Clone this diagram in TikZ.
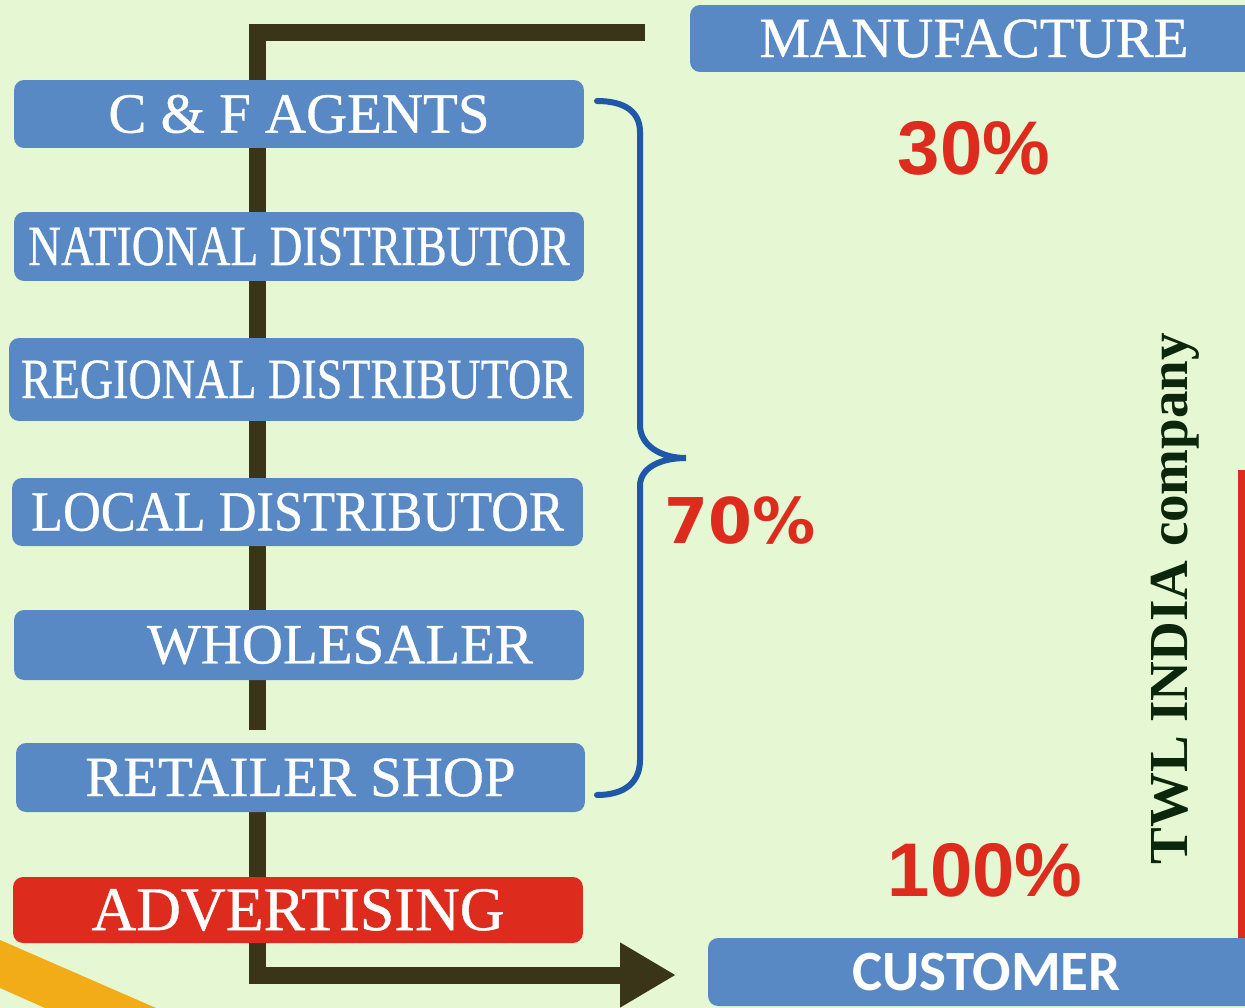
\documentclass[tikz,border=0pt]{standalone}
\usepackage{fontspec}
\usepackage{graphicx}
\setmainfont{Liberation Serif}
\newfontfamily\boxfont[FakeBold=0.6]{Liberation Serif}
\newfontfamily\pctfont{Liberation Sans}
\newfontfamily\widefont{DejaVu Sans}
\newfontfamily\custfont{Carlito}
\usetikzlibrary{arrows.meta}

\definecolor{bgcol}{HTML}{E5F7D3}
\definecolor{boxblue}{HTML}{5889C4}
\definecolor{boxred}{HTML}{DD2C1D}
\definecolor{flowcol}{HTML}{3A3419}
\definecolor{bracecol}{HTML}{1F58A8}
\definecolor{bandcol}{HTML}{F2AC17}
\definecolor{twlcol}{HTML}{0B260B}

\newcommand{\narrow}[2]{\scalebox{#1}[1]{#2}}

\begin{document}
\begin{tikzpicture}[x=0.02cm,y=-0.02cm,
  chain/.style={rectangle,rounded corners=0.2cm,fill=boxblue,text=white,inner sep=0pt,font=\boxfont\fontsize{32.4}{36}\selectfont,minimum width=11.4cm,minimum height=1.36cm},
  pct/.style={text=boxred,inner sep=0pt,font=\pctfont\bfseries\fontsize{43.3}{48}\selectfont},
  flow/.style={draw=flowcol,line width=0.34cm},
  bracket/.style={draw=bracecol,line width=0.12cm,line cap=round}]

\useasboundingbox (0,0) rectangle (1245,1008);
\fill[bgcol] (0,0) rectangle (1245,1008);
\fill[bandcol] (0,940) -- (156,1008) -- (45,1008) -- (0,988) -- cycle;

% main flow line, behind the boxes
\coordinate (start) at (645,32);
\coordinate (corner) at (257,32);
\coordinate (gap) at (257,730);
\coordinate (resume) at (257,743);
\coordinate (bend) at (257,975);
\coordinate (tip) at (676,975);
\draw[flow] (start) -- (corner) -- (gap);
\draw[flow,-{Triangle[length=1.12cm,width=1.22cm]}] (resume) -- (bend) -- (tip);

\draw(974,38.5) node[chain,minimum width=11.36cm,minimum height=1.34cm](mfr){MANUFACTURE};

\draw(299,114) node[chain](cfa){C \& F AGENTS};

\draw(299,246.5) node[chain,minimum height=1.38cm](nat){\narrow{.80}{NATIONAL DISTRIBUTOR}};

\draw(296.5,379.5) node[chain,minimum width=11.5cm,minimum height=1.66cm](reg){\narrow{.81}{REGIONAL DISTRIBUTOR}};

\draw(297.5,512) node[chain,minimum width=11.42cm](loc){\narrow{.92}{LOCAL DISTRIBUTOR}};

\draw(299,645) node[chain,minimum height=1.4cm](whl){\hspace*{1.64cm}WHOLESALER};

\draw(300.5,777.5) node[chain,minimum width=11.38cm,minimum height=1.38cm](ret){RETAILER SHOP};

\draw(298,910) node[chain,fill=boxred,minimum height=1.32cm,font=\boxfont\fontsize{35.3}{40}\selectfont](adv){ADVERTISING};

\draw(986.5,972) node[chain,minimum width=11.14cm,font=\custfont\bfseries\fontsize{32.4}{36}\selectfont](cust){CUSTOMER};

% percentages
\draw(974,148) node[pct](p30){30\%};
\draw(740,521) node[pct,font=\widefont\bfseries\fontsize{35.9}{40}\selectfont](p70){70\%};
\draw(985,870) node[pct](p100){100\%};

% brace over the chain
\draw[bracket] (597,101) .. controls (625,101) and (640,112) .. (640,132) -- (640,425)
  .. controls (640,445) and (660,458) .. (686,458)
  .. controls (660,458) and (640,468) .. (640,486) -- (640,760)
  .. controls (640,782) and (625,795) .. (597,795);

% side label
\draw(1187,865) node[rotate=90,anchor=base west,inner sep=0pt,text=twlcol,font=\bfseries\fontsize{31.3}{36}\selectfont](twl){TWL INDIA company};
\coordinate (redtop) at (1241.5,470);
\draw[draw=boxred,line width=0.14cm] (redtop) -- (redtop |- cust.north);

\end{tikzpicture}
\end{document}
